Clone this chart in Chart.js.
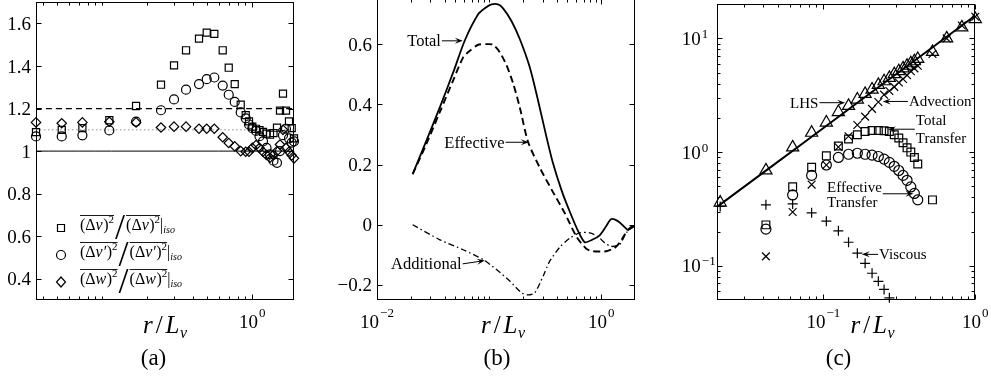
<!DOCTYPE html>
<html>
<head>
<meta charset="utf-8">
<script src="https://cdn.jsdelivr.net/npm/chart.js"></script>
<style>
  html, body { margin: 0; padding: 0; background: #fff; }
  body { width: 991px; height: 383px; position: relative; overflow: hidden; }
  canvas { position: absolute; left: 0; top: -4px; }
</style>
</head>
<body>
<canvas id="panelA" width="991" height="387"></canvas>
<canvas id="panelB" width="991" height="387"></canvas>
<canvas id="panelC" width="991" height="387"></canvas>
<script>
// ---- panel (a): anisotropy ratios of the structure functions ----
const xLimA = [0.0361, 1.897];
const yLimA = [0.3, 1.7];
const rA = [0.0361, 0.0536, 0.0736, 0.1113, 0.1678, 0.2461, 0.3006, 0.3614, 0.4411, 0.4966,
            0.5580, 0.6348, 0.6963, 0.7634, 0.8369, 0.9036, 0.9506, 1.0, 1.0585, 1.1169,
            1.1785, 1.2435, 1.3122, 1.3846, 1.4610, 1.5298, 1.6019, 1.6774, 1.7565, 1.8309, 1.8967];
const dvRatio = [1.089, 1.10, 1.108, 1.145, 1.212, 1.312, 1.403, 1.474, 1.529, 1.557,
                 1.551, 1.474, 1.392, 1.315, 1.218, 1.169, 1.14, 1.115, 1.105, 1.098,
                 1.09, 1.082, 1.077, 1.085, 1.11, 1.19, 1.27, 1.19, 1.14, 1.108, 1.06];
const dvpRatio = [1.069, 1.069, 1.074, 1.097, 1.139, 1.192, 1.243, 1.289, 1.315, 1.338,
                  1.346, 1.308, 1.265, 1.231, 1.182, 1.154, 1.125, 1.108, 1.095, 1.07,
                  1.046, 1.015, 0.985, 0.955, 0.945, 1.0, 1.075, 1.105, 1.06, 1.04, 1.046];
const dwRatio = [1.135, 1.131, 1.135, 1.138, 1.135, 1.111, 1.115, 1.115, 1.105, 1.105,
                 1.105, 1.065, 1.038, 1.023, 1.0, 0.997, 0.997, 1.015, 1.028, 1.015,
                 0.997, 0.982, 0.969, 0.982, 1.0, 1.031, 1.1, 1.015, 0.997, 0.98, 0.966];
const refLevelsA = [1.0, 1.1, 1.2];
const yTicksA = [0.4, 0.6, 0.8, 1, 1.2, 1.4, 1.6];

// ---- panel (b): energy transfer curves ----
const xLimB = [0.01, 2];
const yLimB = [-0.25, 0.75];
const rTot = [0.0208, 0.0277, 0.0364, 0.0478, 0.0608, 0.0798, 0.0916, 0.105, 0.1203, 0.1332,
              0.1582, 0.1877, 0.2304, 0.2731, 0.3245, 0.3714, 0.4412, 0.5232, 0.6201, 0.711,
              0.83, 0.968, 1.11, 1.23, 1.408, 1.616, 1.729, 1.915, 1.98];
const totB = [0.168, 0.281, 0.391, 0.506, 0.613, 0.699, 0.719, 0.732, 0.732, 0.719,
              0.677, 0.617, 0.523, 0.413, 0.292, 0.204, 0.116, 0.044, -0.02, -0.058,
              -0.05, -0.035, -0.004, 0.019, 0.012, -0.008, -0.017, -0.008, -0.005];
const rEff = [0.0208, 0.0277, 0.0364, 0.0478, 0.0587, 0.0673, 0.0798, 0.0948, 0.1085, 0.1245,
              0.1429, 0.1636, 0.1877, 0.2225, 0.2828, 0.3617, 0.4722, 0.6003, 0.7368, 0.8435,
              1.11, 1.316, 1.458, 1.616, 1.79, 1.98];
const effB = [0.168, 0.27, 0.375, 0.48, 0.556, 0.578, 0.598, 0.6, 0.598, 0.573,
              0.53, 0.47, 0.39, 0.275, 0.19, 0.116, 0.039, -0.039, -0.08, -0.088,
              -0.088, -0.077, -0.06, -0.033, -0.011, 0];
const rAdd = [0.0208, 0.0364, 0.0587, 0.0885, 0.1164, 0.1528, 0.1943, 0.2225, 0.2552, 0.3027,
              0.3471, 0.4262, 0.5232, 0.6422, 0.788, 0.9346, 1.072, 1.23, 1.458, 1.673, 1.915, 1.98];
const addB = [0, -0.05, -0.083, -0.116, -0.149, -0.187, -0.226, -0.233, -0.226, -0.171,
              -0.121, -0.075, -0.045, -0.027, -0.027, -0.039, -0.06, -0.072, -0.066, -0.027, -0.006, -0.004];
const yTicksB = [-0.2, 0, 0.2, 0.4, 0.6];

// ---- panel (c): budget terms, log-log ----
const xLimC = [0.02, 1.0];
const yLimC = [0.05, 20];
const rC = [0.0209, 0.0418, 0.0627, 0.0836, 0.1045, 0.1254, 0.1463, 0.1672, 0.1881, 0.209,
            0.2299, 0.2508, 0.2717, 0.2926, 0.3135, 0.3344, 0.3553, 0.3762, 0.3971, 0.418,
            0.5225, 0.648, 0.815, 1.0];
const lhsC = [0.36, 0.69, 1.10, 1.48, 1.82, 2.25, 2.55, 2.9, 3.25, 3.55,
              3.9, 4.2, 4.5, 4.85, 5.15, 5.45, 5.75, 6.05, 6.3, 6.6,
              7.6, 10.0, 12.5, 14.8];
const advC = [null, 0.121, 0.297, 0.518, 0.77, 1.11, 1.38, 1.73, 2.05, 2.4,
              2.76, 3.2, 3.45, 3.75, 4.1, 4.4, 4.75, 5.15, 5.45, 5.75,
              7.3, 10.0, 13.0, 15.5];
const totTrC = [null, 0.229, 0.495, 0.736, 0.927, 1.13, 1.306, 1.42, 1.52, 1.55,
                1.55, 1.54, 1.52, 1.42, 1.33, 1.21, 1.09, 1.0, 0.897, 0.786,
                0.38, null, null, null];
const effTrC = [null, 0.21, 0.42, 0.624, 0.77, 0.897, 0.957, 0.977, 0.957, 0.94,
                0.915, 0.867, 0.812, 0.75, 0.689, 0.624, 0.565, 0.494, 0.433, 0.38,
                null, null, null, null];
const viscC = [0.333, 0.344, 0.35, 0.292, 0.247, 0.203, 0.161, 0.129, 0.105, 0.086,
               0.073, 0.062, 0.0523, null, null, null, null, null, null, null,
               null, null, null, null];
const lhsLineR = [0.0201, 0.05, 0.1, 0.2, 0.5, 1.0];
const lhsLineV = [0.333, 0.82, 1.63, 3.24, 8.0, 15.9];

const SERIF = '"Liberation Serif", "DejaVu Serif", serif';

function decadeSteps(lo, hi) {
  const out = [];
  for (let k = -3; k <= 2; k++) {
    for (let m = 2; m <= 9; m++) {
      const v = +(m * Math.pow(10, k)).toPrecision(3);
      if (v > lo && v < hi) out.push(v);
    }
  }
  return out;
}

function fmtLin(v) {
  if (Math.abs(v) < 1e-9) return '0';
  if (Math.abs(v - 1) < 1e-9) return '1';
  return (v < 0 ? '\u2212' : '') + Math.abs(v).toFixed(1);
}

function marker(data, style, radius) {
  return {
    data: data, showLine: false, pointStyle: style, pointRadius: radius,
    pointBorderColor: '#000', pointBackgroundColor: 'rgba(0,0,0,0)',
    pointBorderWidth: 1.2, clip: false
  };
}

function curve(data, width, dash, color) {
  return {
    data: data, showLine: true, pointRadius: 0, borderColor: color || '#000',
    borderWidth: width, borderDash: dash || [], tension: 0.25, fill: false
  };
}

// ---- drawing helpers ----
function drawPow(ctx, x, base, e, align, raise) {
  ctx.font = '19px ' + SERIF;
  const w1 = ctx.measureText('10').width;
  ctx.font = '13px ' + SERIF;
  const w2 = ctx.measureText(e).width;
  const x0 = align === 'center' ? x - (w1 + w2 + 1) / 2 : x;
  ctx.textAlign = 'left';
  ctx.textBaseline = 'alphabetic';
  ctx.font = '19px ' + SERIF;
  ctx.fillText('10', x0, base);
  ctx.font = '13px ' + SERIF;
  ctx.fillText(e, x0 + w1 + 1, base - raise);
}

function drawTitle(ctx, cx, base) {
  // r / L_v
  const parts = [['r', 'italic 25px', 0, 3], ['/', '25px', 0, 3], ['L', 'italic 25px', 0, 0.5], ['v', 'italic 16px', 5, 0]];
  let w = 0;
  parts.forEach(p => { ctx.font = p[1] + ' ' + SERIF; w += ctx.measureText(p[0]).width + p[3]; });
  let x = cx - w / 2;
  ctx.textAlign = 'left';
  ctx.textBaseline = 'alphabetic';
  parts.forEach(p => {
    ctx.font = p[1] + ' ' + SERIF;
    ctx.fillText(p[0], x, base + p[2]);
    x += ctx.measureText(p[0]).width + p[3];
  });
}

function arrow(ctx, x1, y1, x2, y2) {
  const ang = Math.atan2(y2 - y1, x2 - x1), L = 8, W = 3;
  const c = Math.cos(ang), s = Math.sin(ang);
  ctx.beginPath();
  ctx.moveTo(x1, y1);
  ctx.lineTo(x2 - L * 0.5 * c, y2 - L * 0.5 * s);
  ctx.stroke();
  ctx.beginPath();
  ctx.moveTo(x2, y2);
  ctx.lineTo(x2 - L * c + W * s, y2 - L * s - W * c);
  ctx.lineTo(x2 - L * 0.6 * c, y2 - L * 0.6 * s);
  ctx.lineTo(x2 - L * c - W * s, y2 - L * s + W * c);
  ctx.closePath();
  ctx.fill();
}

function drawNote(ctx, xs, ys, n, font) {
  const tx = xs.getPixelForValue(n.tail[0]), ty = ys.getPixelForValue(n.tail[1]);
  const hx = xs.getPixelForValue(n.head[0]), hy = ys.getPixelForValue(n.head[1]);
  ctx.strokeStyle = '#000';
  ctx.fillStyle = '#000';
  ctx.lineWidth = 1;
  arrow(ctx, tx, ty, hx, hy);
  ctx.font = font;
  ctx.textAlign = 'left';
  ctx.textBaseline = 'middle';
  const mw = Math.max(...n.lines.map(s => ctx.measureText(s).width));
  const left = n.side === 'left' ? tx - 1 - mw : tx + 1;
  const lh = n.lh || 17, dy = n.dy || 0;
  n.lines.forEach((s, i) => ctx.fillText(s, left, ty + dy + 1 + (i - (n.lines.length - 1) / 2) * lh));
}

function mathGroup(ctx, x, base, sym) {
  const start = x;
  const seg = (t, font, dy) => {
    ctx.font = font + ' ' + SERIF;
    ctx.fillText(t, x, base + dy);
    x += ctx.measureText(t).width;
  };
  seg('(\u0394', '16px', 0);
  seg(sym, 'italic 16px', 0);
  x += 0.5;
  seg(')', '16px', 0);
  seg('2', '11px', -7);
  ctx.beginPath();
  ctx.lineWidth = 0.9;
  ctx.moveTo(start, base - 14.5);
  ctx.lineTo(x, base - 14.5);
  ctx.stroke();
  return x;
}

function drawLegendA(ctx, a) {
  const rows = [['rect', 'v'], ['circle', 'v\u2032'], ['diamond', 'w']];
  ctx.strokeStyle = '#000';
  ctx.fillStyle = '#000';
  ctx.textAlign = 'left';
  ctx.textBaseline = 'alphabetic';
  rows.forEach((row, i) => {
    const y = a.bottom - 72 + i * 27;
    const mx = a.left + 25;
    ctx.lineWidth = 1.2;
    ctx.beginPath();
    if (row[0] === 'rect') ctx.rect(mx - 3.5, y - 3.5, 7, 7);
    else if (row[0] === 'circle') ctx.arc(mx, y, 4.5, 0, Math.PI * 2);
    else { ctx.moveTo(mx, y - 5); ctx.lineTo(mx + 4.5, y); ctx.lineTo(mx, y + 5); ctx.lineTo(mx - 4.5, y); ctx.closePath(); }
    ctx.stroke();
    const base = y + 2;
    let x = a.left + 44;
    x = mathGroup(ctx, x, base, row[1]);
    x += 1;
    ctx.font = '36px ' + SERIF;
    ctx.fillText('/', x, y + 11);
    x += ctx.measureText('/').width + 1;
    x = mathGroup(ctx, x, base, row[1]);
    ctx.font = '16px ' + SERIF;
    ctx.fillText('|', x, base);
    x += ctx.measureText('|').width;
    ctx.font = 'italic 10px ' + SERIF;
    ctx.fillText('iso', x, base + 3);
  });
}

function decoPlugin(d) {
  return {
    id: 'deco',
    beforeDatasetsDraw(chart) {
      const ctx = chart.ctx, a = chart.chartArea;
      const xs = chart.scales.x, ys = chart.scales.y;
      const L = Math.round(a.left) + 0.5, R = Math.round(a.right) - 0.5;
      const T = Math.round(a.top) + 0.5, B = Math.round(a.bottom) - 0.5;
      ctx.save();
      ctx.strokeStyle = '#000';
      ctx.lineWidth = 1;
      ctx.strokeRect(L, T, R - L, B - T);
      const seg = (x1, y1, x2, y2) => { ctx.beginPath(); ctx.moveTo(x1, y1); ctx.lineTo(x2, y2); ctx.stroke(); };
      const xt = (vals, len) => vals.forEach(v => {
        const p = Math.round(xs.getPixelForValue(v)) + 0.5;
        seg(p, B, p, B - len); seg(p, T, p, T + len);
      });
      const yt = (vals, len) => vals.forEach(v => {
        const p = Math.round(ys.getPixelForValue(v)) + 0.5;
        seg(L, p, L + len, p); seg(R, p, R - len, p);
      });
      xt(d.xMajor, 5); xt(d.xMinor, 3);
      yt(d.yMajor, 5); yt(d.yMinor, 3);
      ctx.restore();
    },
    afterDraw(chart) {
      const ctx = chart.ctx, a = chart.chartArea;
      const xs = chart.scales.x, ys = chart.scales.y;
      ctx.save();
      ctx.fillStyle = '#000';
      d.xLabels.forEach(l => drawPow(ctx, xs.getPixelForValue(l[0]), a.bottom + 28, l[1], 'center', 11));
      if (d.yLog) {
        d.yLabels.forEach(l => drawPow(ctx, a.left - 35.5, ys.getPixelForValue(l[0]) + 6.5, l[1], 'left', 7));
      } else {
        ctx.font = '19px ' + SERIF;
        ctx.textAlign = 'right';
        ctx.textBaseline = 'alphabetic';
        d.yLabels.forEach(v => ctx.fillText(fmtLin(v), a.left - 5, ys.getPixelForValue(v) + 6.5));
      }
      drawTitle(ctx, d.titleX, a.bottom + 32.5);
      ctx.font = '23px ' + SERIF;
      ctx.textAlign = 'center';
      ctx.textBaseline = 'alphabetic';
      ctx.fillText(d.letter, d.letterX, a.bottom + 65);
      (d.notes || []).forEach(n => drawNote(ctx, xs, ys, n, d.noteFont));
      if (d.legend) d.legend(ctx, a);
      ctx.restore();
    }
  };
}

function options(pad, xLim, yLim, yType) {
  return {
    responsive: false,
    animation: false,
    events: [],
    layout: { padding: pad },
    plugins: { legend: { display: false }, tooltip: { enabled: false } },
    scales: {
      x: { type: 'logarithmic', min: xLim[0], max: xLim[1], bounds: 'data', display: false },
      y: { type: yType, min: yLim[0], max: yLim[1], bounds: 'data', display: false }
    }
  };
}

// ---- panel (a) ----
const ptsA = vals => rA.map((r, i) => ({ x: r, y: vals[i] }));
const levelA = v => [{ x: xLimA[0], y: v }, { x: xLimA[1], y: v }];
new Chart(document.getElementById('panelA'), {
  type: 'scatter',
  data: {
    datasets: [
      marker(ptsA(dvRatio), 'rect', 5),
      marker(ptsA(dvpRatio), 'circle', 4.5),
      marker(ptsA(dwRatio), 'rectRot', 4.7),
      curve(levelA(refLevelsA[0]), 1, [], '#000'),
      curve(levelA(refLevelsA[1]), 1, [1.5, 2.5], '#8c8c8c'),
      curve(levelA(refLevelsA[2]), 1.2, [6, 4], '#000')
    ]
  },
  options: options({ left: 36, right: 697, top: 3, bottom: 83 }, xLimA, yLimA, 'linear'),
  plugins: [decoPlugin({
    xMajor: [1], xMinor: decadeSteps(xLimA[0], xLimA[1]).concat([0.1]),
    yMajor: yTicksA, yMinor: [], yLabels: yTicksA, yLog: false,
    xLabels: [[1, '0']],
    titleX: 165, letter: '(a)', letterX: 153.5,
    legend: drawLegendA
  })]
});

// ---- panel (b) ----
const pts = (xs, ys) => xs.map((r, i) => ({ x: r, y: ys[i] }));
new Chart(document.getElementById('panelB'), {
  type: 'scatter',
  data: {
    datasets: [
      curve(pts(rTot, totB), 1.8, []),
      curve(pts(rEff, effB), 1.9, [7, 4]),
      curve(pts(rAdd, addB), 1.3, [6, 3, 1.5, 3])
    ]
  },
  options: options({ left: 377, right: 356, top: 3, bottom: 83 }, xLimB, yLimB, 'linear'),
  plugins: [decoPlugin({
    xMajor: [0.01, 1], xMinor: decadeSteps(xLimB[0], xLimB[1]).concat([0.1]),
    yMajor: yTicksB, yMinor: [], yLabels: yTicksB, yLog: false,
    xLabels: [[0.01, '\u22122'], [1, '0']],
    titleX: 503, letter: '(b)', letterX: 497,
    noteFont: '16.5px ' + SERIF,
    notes: [
      { lines: ['Total'], tail: [0.0379, 0.611], head: [0.0583, 0.611], side: 'left' },
      { lines: ['Effective'], tail: [0.14, 0.274], head: [0.2257, 0.274], side: 'left' },
      { lines: ['Additional'], tail: [0.058, -0.13], head: [0.0916, -0.119], side: 'left' }
    ]
  })]
});

// ---- panel (c) ----
const ptsC = vals => rC.map((r, i) => ({ x: r, y: vals[i] }));
new Chart(document.getElementById('panelC'), {
  type: 'scatter',
  data: {
    datasets: [
      curve(pts(lhsLineR, lhsLineV), 2, []),
      marker(ptsC(lhsC), 'triangle', 7),
      marker(ptsC(advC), 'crossRot', 5.5),
      marker(ptsC(totTrC), 'rect', 5.5),
      marker(ptsC(effTrC), 'circle', 5),
      marker(ptsC(viscC), 'cross', 5)
    ]
  },
  options: options({ left: 717.3, right: 15.7, top: 3, bottom: 83 }, xLimC, yLimC, 'logarithmic'),
  plugins: [decoPlugin({
    xMajor: [0.1, 1], xMinor: decadeSteps(xLimC[0], xLimC[1]),
    yMajor: [0.1, 1, 10], yMinor: decadeSteps(yLimC[0], yLimC[1]), yLog: true,
    yLabels: [[0.1, '\u22121'], [1, '0'], [10, '1']],
    xLabels: [[0.1, '\u22121'], [1, '0']],
    titleX: 872.5, letter: '(c)', letterX: 838.5,
    noteFont: '15px ' + SERIF,
    notes: [
      { lines: ['LHS'], tail: [0.0941, 2.72], head: [0.139, 2.72], side: 'left' },
      { lines: ['Advection'], tail: [0.36, 2.79], head: [0.246, 2.79], side: 'right' },
      { lines: ['Total', 'Transfer'], tail: [0.4, 1.59], head: [0.266, 1.59], side: 'right', lh: 18 },
      { lines: ['Effective', 'Transfer'], tail: [0.246, 0.43], head: [0.391, 0.43], side: 'left', lh: 15, dy: 1 },
      { lines: ['Viscous'], tail: [0.229, 0.126], head: [0.179, 0.126], side: 'right' }
    ]
  })]
});
</script>
</body>
</html>
